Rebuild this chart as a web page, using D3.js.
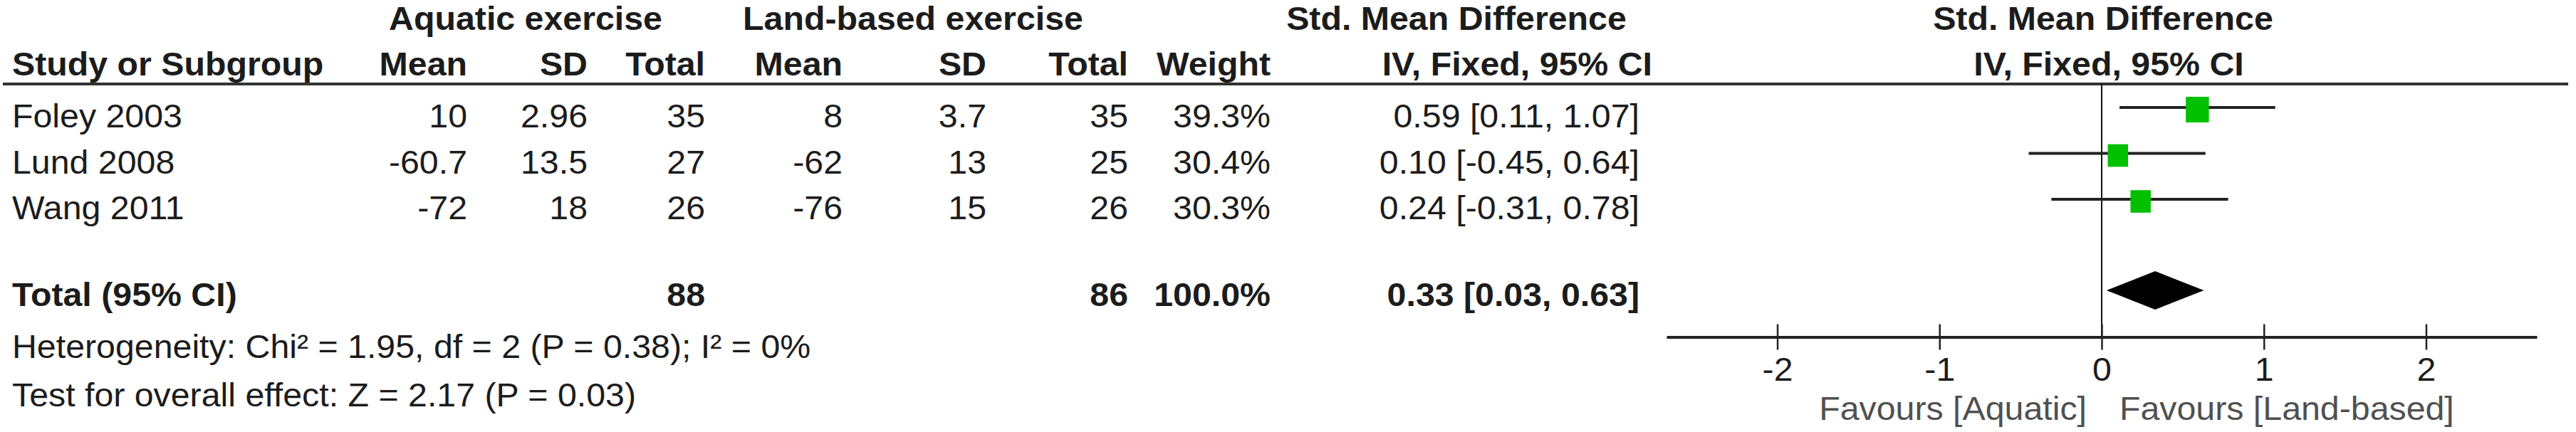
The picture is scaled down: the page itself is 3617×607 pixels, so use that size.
<!DOCTYPE html>
<html>
<head>
<meta charset="utf-8">
<script src="https://cdn.jsdelivr.net/npm/d3@7"></script>
<style>
body { margin: 0; background: #fff; }
text { font-family: "Liberation Sans", Arial, sans-serif; }
</style>
</head>
<body>
<div id="chart"></div>
<script>
const width = 3617
const height = 607

// data
const studies = ["Foley 2003", "Lund 2008", "Wang 2011"]
const aquaMean = ["10", "-60.7", "-72"]
const aquaSD = ["2.96", "13.5", "18"]
const aquaN = [35, 27, 26]
const landMean = ["8", "-62", "-76"]
const landSD = ["3.7", "13", "15"]
const landN = [35, 25, 26]
const weights = [39.3, 30.4, 30.3]
const smd = [0.59, 0.10, 0.24]
const lower = [0.11, -0.45, -0.31]
const upper = [1.07, 0.64, 0.78]

const totalLabel = "Total (95% CI)"
const totalN = [88, 86]
const totalWeight = 100.0
const totalEffect = [0.33, 0.03, 0.63]   // smd, lower, upper

const heterogeneity = "Heterogeneity: Chi² = 1.95, df = 2 (P = 0.38); I² = 0%"
const overallTest = "Test for overall effect: Z = 2.17 (P = 0.03)"

const axisTicks = [-2, -1, 0, 1, 2]
const favours = ["Favours [Aquatic]", "Favours [Land-based]"]

// hyphen minus like RevMan, not the unicode one
const locale = d3.formatLocale({decimal: ".", thousands: ",", grouping: [3], currency: ["", ""], minus: "-"})
const f2 = locale.format(".2f")
const f1 = locale.format(".1f")
const f0 = locale.format("d")

const fontSize = 46
const stretch = 1.05
const ink = "#1c1c1c"

const svg = d3.select("#chart").append("svg")
    .attr("width", width)
    .attr("height", height)
    .style("display", "block")

function label(g, x, y, txt, anchor, bold, color) {
    return g.append("text")
        .attr("transform", `translate(${x},${y}) scale(${stretch},1)`)
        .attr("text-anchor", anchor)
        .attr("font-size", fontSize)
        .attr("font-weight", bold ? "bold" : "normal")
        .attr("fill", color || ink)
        .text(txt)
}

// column right edges of the table
const col = {aquaMean: 656, aquaSD: 825, aquaN: 990, landMean: 1183, landSD: 1385, landN: 1584, weight: 1784, ci: 2302}

// rows
const rowY = d3.scaleLinear().domain([0, 2]).range([179, 308])
const yHead1 = 42, yHead2 = 106, yRule = 118, yTotal = 430, yHet = 503, yTest = 571

// forest scale
const x = d3.scaleLinear().domain([-2.683, 2.683]).range([2340, 3562])
const yAxis = 473.5
const boxSize = d3.scaleSqrt().domain([0, d3.max(weights)]).range([0, 36])

const head = svg.append("g").attr("id", "header")
label(head, 738, yHead1, "Aquatic exercise", "middle", true)
label(head, 1282, yHead1, "Land-based exercise", "middle", true)
label(head, 2045, yHead1, "Std. Mean Difference", "middle", true)
label(head, x(0) + 2, yHead1, "Std. Mean Difference", "middle", true)

label(head, 17, yHead2, "Study or Subgroup", "start", true)
label(head, col.aquaMean, yHead2, "Mean", "end", true)
label(head, col.aquaSD, yHead2, "SD", "end", true)
label(head, col.aquaN, yHead2, "Total", "end", true)
label(head, col.landMean, yHead2, "Mean", "end", true)
label(head, col.landSD, yHead2, "SD", "end", true)
label(head, col.landN, yHead2, "Total", "end", true)
label(head, col.weight, yHead2, "Weight", "end", true)
label(head, 2320, yHead2, "IV, Fixed, 95% CI", "end", true)
label(head, x(0) + 10, yHead2, "IV, Fixed, 95% CI", "middle", true)

svg.append("line")
    .attr("x1", 4).attr("x2", 3606)
    .attr("y1", yRule).attr("y2", yRule)
    .attr("stroke", "#333")
    .attr("stroke-width", 4)

// study rows
const rows = svg.append("g").attr("id", "rows")
studies.forEach((s, i) => {
    const y = rowY(i)
    label(rows, 17, y, s, "start")
    label(rows, col.aquaMean, y, aquaMean[i], "end")
    label(rows, col.aquaSD, y, aquaSD[i], "end")
    label(rows, col.aquaN, y, f0(aquaN[i]), "end")
    label(rows, col.landMean, y, landMean[i], "end")
    label(rows, col.landSD, y, landSD[i], "end")
    label(rows, col.landN, y, f0(landN[i]), "end")
    label(rows, col.weight, y, f1(weights[i]) + "%", "end")
    label(rows, col.ci, y, `${f2(smd[i])} [${f2(lower[i])}, ${f2(upper[i])}]`, "end")
})

// total row
const tot = svg.append("g").attr("id", "total")
label(tot, 17, yTotal, totalLabel, "start", true)
label(tot, col.aquaN, yTotal, f0(totalN[0]), "end", true)
label(tot, col.landN, yTotal, f0(totalN[1]), "end", true)
label(tot, col.weight, yTotal, f1(totalWeight) + "%", "end", true)
label(tot, col.ci, yTotal, `${f2(totalEffect[0])} [${f2(totalEffect[1])}, ${f2(totalEffect[2])}]`, "end", true)

label(svg, 17, yHet, heterogeneity, "start")
label(svg, 17, yTest, overallTest, "start")

// forest plot
const plot = svg.append("g").attr("id", "plot")

plot.append("line")
    .attr("x1", x(0)).attr("x2", x(0))
    .attr("y1", yRule).attr("y2", yAxis)
    .attr("stroke", "#111")
    .attr("stroke-width", 2)

const marks = plot.selectAll(".study")
    .data(studies.map((s, i) => ({s, i})))
    .join("g")
    .attr("class", "study")

marks.append("line")
    .attr("x1", d => x(lower[d.i]))
    .attr("x2", d => x(upper[d.i]))
    .attr("y1", d => rowY(d.i) - 28)
    .attr("y2", d => rowY(d.i) - 28)
    .attr("stroke", "#222")
    .attr("stroke-width", 4)

marks.append("rect")
    .attr("x", d => x(smd[d.i]) - boxSize(weights[d.i]) * 0.45)
    .attr("y", d => rowY(d.i) - 25 - boxSize(weights[d.i]) / 2)
    .attr("width", d => boxSize(weights[d.i]) * 0.9)
    .attr("height", d => boxSize(weights[d.i]))
    .attr("fill", "#00c000")

// pooled diamond
const dy = yTotal - 22
plot.append("path")
    .attr("d", `M${x(totalEffect[1])},${dy} L${x(totalEffect[0])},${dy - 27} L${x(totalEffect[2])},${dy} L${x(totalEffect[0])},${dy + 27} Z`)
    .attr("fill", "#000")

// axis
const axis = plot.append("g")
    .attr("transform", `translate(0,${yAxis})`)
    .call(d3.axisBottom(x).tickValues(axisTicks).tickFormat(f0).tickSizeOuter(0))

axis.select(".domain").attr("stroke", "#222").attr("stroke-width", 4)
axis.selectAll(".tick line").attr("y1", -18).attr("y2", 18).attr("stroke", "#222").attr("stroke-width", 2.5)
axis.selectAll(".tick text")
    .attr("y", 61.5)
    .attr("dy", 0)
    .attr("transform", `scale(${stretch},1)`)
    .attr("font-size", fontSize)
    .attr("font-family", "Liberation Sans, Arial, sans-serif")
    .attr("fill", ink)

label(plot, x(0) - 21, 590, favours[0], "end", false, "#505050")
label(plot, x(0) + 25, 590, favours[1], "start", false, "#505050")
</script>
</body>
</html>
